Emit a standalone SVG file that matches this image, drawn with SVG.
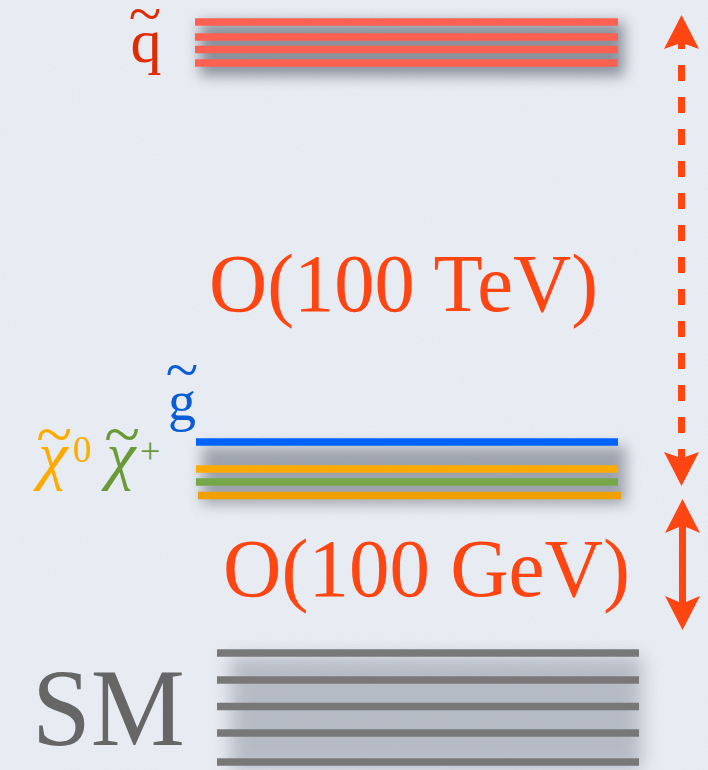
<svg xmlns="http://www.w3.org/2000/svg" width="708" height="770" viewBox="0 0 708 770">
  <defs>
    <filter id="noise" x="0" y="0" width="100%" height="100%">
      <feTurbulence type="fractalNoise" baseFrequency="0.9" numOctaves="2" seed="3" result="n"/>
      <feColorMatrix in="n" type="matrix" values="0 0 0 0 1  0 0 0 0 1  0 0 0 0 1  0 0 0 0.35 0"/>
    </filter>
    <filter id="shadow" x="-20%" y="-50%" width="140%" height="200%">
      <feGaussianBlur stdDeviation="7"/>
    </filter>
    <filter id="shadowS" x="-20%" y="-50%" width="140%" height="200%">
      <feGaussianBlur stdDeviation="9"/>
    </filter>
  </defs>
  <style>
    .serif { font-family: "Liberation Serif", "Times New Roman", serif; }
    .lvl { stroke-width: 7.5; stroke-linecap: butt; }
    .arrow { fill: #ff4512; }
    .scale { fill: #ff4512; font-size: 82px; }
    .chi { font-style: italic; font-size: 66px; }
    .tilde { font-size: 58px; text-anchor: middle; }
  </style>

  <rect x="0" y="0" width="708" height="770" fill="#e2e7ef"/>
  <rect x="0" y="0" width="708" height="770" filter="url(#noise)"/>

  <g id="squarks">
    <rect x="200" y="22" width="424" height="54" fill="#737b86" opacity="0.8" filter="url(#shadow)"/>
    <g class="lvl" stroke="#fe6152">
      <line x1="195" y1="22" x2="618" y2="22"/>
      <line x1="195" y1="37" x2="618" y2="37"/>
      <line x1="195" y1="49.5" x2="618" y2="49.5"/>
      <line x1="195" y1="63" x2="618" y2="63"/>
    </g>
    <text class="serif" fill="#e02a00" text-anchor="middle"><tspan x="146" y="62" font-size="62">q</tspan><tspan x="145" y="34" font-size="60">~</tspan></text>
  </g>

  <g id="gauginos">
    <rect x="202" y="446" width="424" height="58" fill="#7f8691" opacity="0.7" filter="url(#shadow)"/>
    <line class="lvl" stroke="#0062ff" x1="196" y1="442" x2="618" y2="442"/>
    <line class="lvl" stroke="#ffaa00" x1="196" y1="469" x2="618" y2="469"/>
    <line class="lvl" stroke="#76a84a" x1="196" y1="482" x2="618" y2="482"/>
    <line class="lvl" stroke="#f0a000" x1="198" y1="495.5" x2="621" y2="495.5"/>
  </g>

  <g id="gluino">
    <text class="serif" fill="#0a5cd6" text-anchor="middle"><tspan x="182" y="420" font-size="56">g</tspan><tspan x="182" y="390" font-size="60">~</tspan></text>
  </g>

  <g id="neutralino">
    <text class="serif" fill="#ffaa00" text-anchor="middle"><tspan class="chi" x="53" y="477">χ</tspan><tspan x="54" y="456" font-size="66">~</tspan></text>
    <text class="serif" x="73" y="462" font-size="37" fill="#ffaa00">0</text>
  </g>

  <g id="chargino">
    <text class="serif" fill="#6a9a38" text-anchor="middle"><tspan class="chi" x="121" y="477">χ</tspan><tspan x="122" y="456" font-size="66">~</tspan></text>
    <text class="serif" x="140" y="463" font-size="36" fill="#6a9a38">+</text>
  </g>

  <g id="sm">
    <rect x="230" y="656" width="412" height="114" fill="#8e95a0" opacity="0.55" filter="url(#shadowS)"/>
    <g class="lvl" stroke="#787878">
      <line x1="217" y1="653" x2="639" y2="653"/>
      <line x1="217" y1="680" x2="639" y2="680"/>
      <line x1="217" y1="706.5" x2="639" y2="706.5"/>
      <line x1="217" y1="733" x2="639" y2="733"/>
      <line x1="217" y1="762" x2="639" y2="762"/>
    </g>
    <text class="serif" x="32" y="745" font-size="110" fill="#666666" textLength="153" lengthAdjust="spacingAndGlyphs">SM</text>
  </g>

  <g id="label-tev">
    <text class="serif scale" x="209" y="311" textLength="389" lengthAdjust="spacingAndGlyphs">O(100 TeV)</text>
  </g>
  <g id="label-gev">
    <text class="serif scale" x="223" y="596" font-size="83" textLength="407" lengthAdjust="spacingAndGlyphs">O(100 GeV)</text>
  </g>

  <g id="connectors">
    <line x1="681.5" y1="65" x2="681.5" y2="433" stroke="#ff4512" stroke-width="7" stroke-dasharray="16 16"/>
    <polygon class="arrow" points="681.5,15 699,49 685,44 685,49 678,49 678,44 664,49"/>
    <polygon class="arrow" points="681.5,486 664,452 678,457 678,449 685,449 685,457 699,452"/>
    <polygon class="arrow" points="682.5,499 700,533 686,527 686,602 700,596 682.5,630 665,596 679,602 679,527 665,533"/>
  </g>
</svg>
